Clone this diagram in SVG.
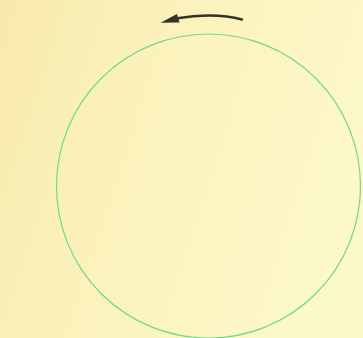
<svg xmlns="http://www.w3.org/2000/svg" width="363" height="338" viewBox="0 0 363 338">
  <defs>
    <linearGradient id="paper" x1="0" y1="0" x2="1" y2="0.3">
      <stop offset="0" stop-color="#F8E8AA"/>
      <stop offset="0.3" stop-color="#FAF0B8"/>
      <stop offset="1" stop-color="#FDF8C8"/>
    </linearGradient>
  </defs>
  <style>
    .circle { fill: none; stroke: #72D98C; stroke-width: 1.2; }
    .arrow { fill: none; stroke: #33332C; stroke-width: 2.4; stroke-linecap: round; }
    .head { fill: #33332C; }
  </style>
  <rect x="0" y="0" width="363" height="338" fill="url(#paper)"/>
  <g id="circle">
    <circle class="circle" cx="208.5" cy="186" r="152"/>
  </g>
  <g id="connectors">
    <path class="arrow" d="M242,19.5 Q215,12 176,18.5"/>
    <polygon class="head" points="160.5,22.8 177,14 179.5,22.5"/>
  </g>
</svg>
